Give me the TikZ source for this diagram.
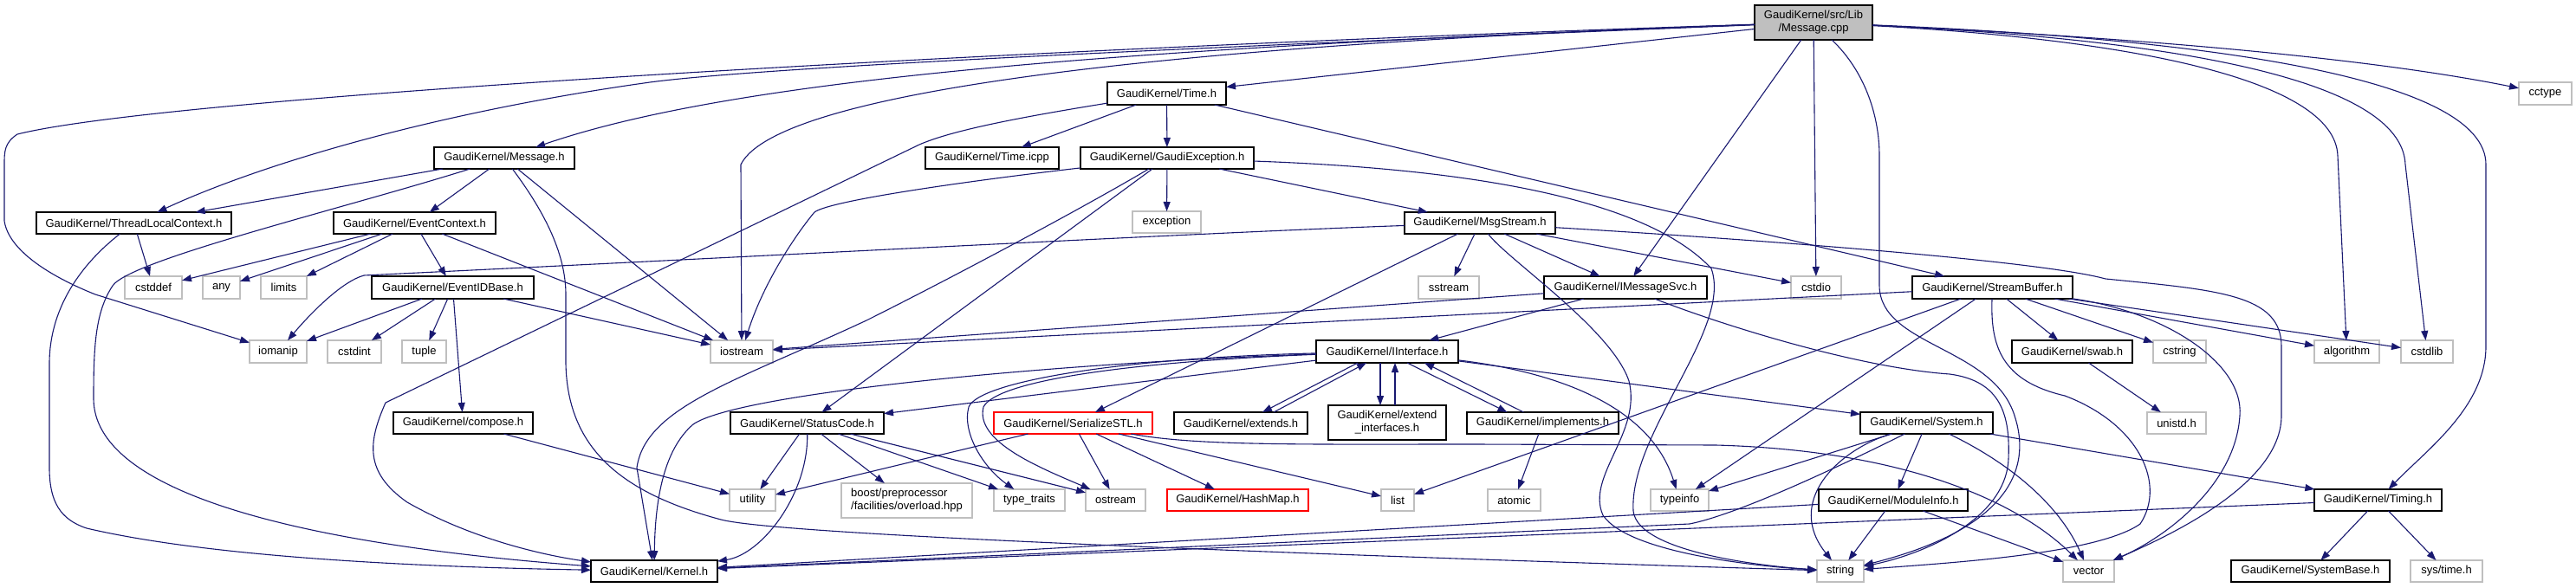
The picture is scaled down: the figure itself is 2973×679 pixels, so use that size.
\documentclass[tikz,border=0pt]{standalone}
\usepackage{fontspec}
\setmainfont{Liberation Sans}
\usetikzlibrary{arrows.meta,calc}
\definecolor{edgecol}{HTML}{191970}
\definecolor{grayb}{HTML}{BFBFBF}
\newcommand\nb[7]{\node[#1,minimum width={(#5-#3)*0.5pt},minimum height={(#6-#4)*0.5pt}] (#2) at ({(#3+#5)/2},{(#4+#6)/2}) {#7};}
\begin{document}
\begin{tikzpicture}[x=0.5pt,y=-0.5pt,
  base/.style={rectangle,inner sep=0pt,outer sep=0pt,line width=0.65pt,font=\fontsize{6.5}{7.5}\selectfont,align=center},
  doc/.style={base,draw=black,fill=white},
  ext/.style={base,draw=grayb,fill=white},
  red/.style={base,draw=red,fill=white},
  root/.style={base,draw=black,fill=grayb},
  dep/.style={draw=edgecol,line width=0.55pt,-{Triangle[length=5.5pt,width=4pt]}}]
\useasboundingbox[fill=white] (0,0) rectangle (2973,679);
% nodes
\nb{root}{cpp}{2025}{6}{2161}{46}{GaudiKernel/src/Lib\\/Message.cpp}
\nb{doc}{time}{1278}{95}{1415}{121}{GaudiKernel/Time.h}
\nb{ext}{cctype}{2907}{95}{2968}{121}{cctype}
\nb{doc}{msgh}{501}{170}{663}{195}{GaudiKernel/Message.h}
\nb{doc}{ticpp}{1068}{170}{1222}{195}{GaudiKernel/Time.icpp}
\nb{doc}{gexc}{1247}{170}{1447}{195}{GaudiKernel/GaudiException.h}
\nb{doc}{tlc}{42}{245}{267}{270}{GaudiKernel/ThreadLocalContext.h}
\nb{doc}{evctx}{385}{245}{572}{270}{GaudiKernel/EventContext.h}
\nb{ext}{exception}{1307}{244}{1386}{269}{exception}
\nb{doc}{msgs}{1621}{245}{1795}{270}{GaudiKernel/MsgStream.h}
\nb{ext}{cstddef}{144}{319}{210}{345}{cstddef}
\nb{ext}{any}{234}{319}{277}{345}{any}
\nb{ext}{limits}{301}{319}{354}{345}{limits}
\nb{doc}{evid}{429}{319}{616}{345}{GaudiKernel/EventIDBase.h}
\nb{ext}{sstream}{1637}{319}{1707}{345}{sstream}
\nb{doc}{imsg}{1782}{319}{1970}{345}{GaudiKernel/IMessageSvc.h}
\nb{ext}{cstdio}{2067}{319}{2125}{345}{cstdio}
\nb{doc}{sbuf}{2207}{319}{2392}{345}{GaudiKernel/StreamBuffer.h}
\nb{ext}{iomanip}{288}{393}{354}{419}{iomanip}
\nb{ext}{cstdint}{378}{393}{440}{419}{cstdint}
\nb{ext}{tuple}{464}{393}{515}{419}{tuple}
\nb{ext}{iostream}{820}{393}{892}{419}{iostream}
\nb{doc}{iint}{1519}{393}{1683}{419}{GaudiKernel/IInterface.h}
\nb{doc}{swab}{2322}{393}{2461}{419}{GaudiKernel/swab.h}
\nb{ext}{cstring}{2485}{393}{2546}{419}{cstring}
\nb{ext}{algorithm}{2671}{393}{2746}{419}{algorithm}
\nb{ext}{cstdlib}{2771}{393}{2831}{419}{cstdlib}
\nb{doc}{compose}{454}{476}{615}{501}{GaudiKernel/compose.h}
\nb{doc}{status}{843}{476}{1020}{501}{GaudiKernel/StatusCode.h}
\nb{red}{sstl}{1147}{476}{1330}{501}{GaudiKernel/SerializeSTL.h}
\nb{doc}{extends}{1355}{476}{1509}{501}{GaudiKernel/extends.h}
\nb{doc}{extif}{1533}{468}{1669}{508}{GaudiKernel/extend\\\_interfaces.h}
\nb{doc}{impl}{1693}{476}{1868}{501}{GaudiKernel/implements.h}
\nb{doc}{system}{2147}{476}{2300}{501}{GaudiKernel/System.h}
\nb{ext}{unistd}{2478}{476}{2546}{501}{unistd.h}
\nb{ext}{utility}{842}{565}{895}{590}{utility}
\nb{ext,align=left}{boost}{971}{558}{1122}{598}{boost/preprocessor\\/facilities/overload.hpp}
\nb{ext}{typetraits}{1147}{565}{1229}{590}{type\_traits}
\nb{ext}{ostream}{1253}{565}{1322}{590}{ostream}
\nb{red}{hashmap}{1347}{565}{1510}{590}{GaudiKernel/HashMap.h}
\nb{ext}{list}{1594}{565}{1632}{590}{list}
\nb{ext}{atomic}{1717}{565}{1778}{590}{atomic}
\nb{ext}{typeinfo}{1905}{565}{1972}{590}{typeinfo}
\nb{doc}{modinfo}{2099}{565}{2271}{590}{GaudiKernel/ModuleInfo.h}
\nb{doc}{timing}{2671}{565}{2818}{590}{GaudiKernel/Timing.h}
\nb{doc}{kernel}{682}{647}{828}{672}{GaudiKernel/Kernel.h}
\nb{ext}{string}{2097}{647}{2151}{672}{string}
\nb{ext}{vector}{2381}{647}{2440}{672}{vector}
\nb{doc}{sysbase}{2575}{647}{2758}{672}{GaudiKernel/SystemBase.h}
\nb{ext}{systime}{2782}{647}{2865}{672}{sys/time.h}
% Message.cpp
\draw[dep] (cpp) .. controls (1200,55) and (200,110) .. (20,155) .. controls (5,165) and (5,175) .. (5,190) -- (5,255) .. controls (10,290) and (60,320) .. (110,340) -- (iomanip);
\draw[dep] (cpp) .. controls (1500,50) and (900,75) .. (750,95) .. controls (500,130) and (300,190) .. (tlc);
\draw[dep] (cpp) .. controls (1300,55) and (850,90) .. (msgh);
\draw[dep] (cpp) .. controls (1400,50) and (900,100) .. (855,190) -- (iostream);
\draw[dep] (cpp) -- (time);
\draw[dep] (cpp) -- (imsg);
\draw[dep] (cpp) -- (cstdio);
\draw[dep] (cpp) .. controls (2150,80) and (2169,130) .. (2169,180) -- (2169,330) .. controls (2170,400) and (2300,400) .. (2325,480) .. controls (2345,540) and (2320,610) .. (string);
\draw[dep] (cpp) .. controls (2500,45) and (2750,70) .. (cctype);
\draw[dep] (cpp) .. controls (2450,45) and (2695,90) .. (2698,180) -- (algorithm);
\draw[dep] (cpp) .. controls (2500,45) and (2772,90) .. (2776,190) -- (cstdlib);
\draw[dep] (cpp) .. controls (2550,45) and (2869,90) .. (2869,190) -- (2869,400) .. controls (2869,470) and (2800,520) .. (timing);
% Time.h
\draw[dep] (time) -- (ticpp);
\draw[dep] (time) -- (gexc);
\draw[dep] (time) .. controls (1180,135) and (1100,150) .. (1061,167) -- (445,465) .. controls (425,510) and (420,545) .. (470,580) .. controls (540,620) and (620,640) .. (kernel);
\draw[dep] (time) -- (sbuf);
% GaudiException.h
\draw[dep] (gexc) -- (exception);
\draw[dep] (gexc) .. controls (1150,205) and (960,230) .. (940,245) .. controls (915,275) and (880,330) .. (iostream);
\draw[dep] (gexc) -- (status);
\draw[dep] (gexc) .. controls (1250,240) and (1100,320) .. (1000,370) .. controls (850,440) and (745,470) .. (735,540) -- (kernel);
\draw[dep] (gexc) -- (msgs);
\draw[dep] (gexc) .. controls (1700,195) and (1900,230) .. (1975,310) .. controls (2000,380) and (1880,500) .. (1885,590) .. controls (1890,640) and (2050,655) .. (string);
% Message.h
\draw[dep] (msgh) -- (tlc);
\draw[dep] (msgh) .. controls (400,240) and (150,300) .. (130,330) .. controls (110,360) and (108,400) .. (108,460) .. controls (108,600) and (500,640) .. (kernel);
\draw[dep] (msgh) -- (evctx);
\draw[dep] (msgh) .. controls (625,240) and (653,290) .. (653,340) -- (653,420) .. controls (655,520) and (720,570) .. (832,600) .. controls (900,618) and (1500,640) .. (string);
\draw[dep] (msgh) -- (iostream);
% ThreadLocalContext.h
\draw[dep] (tlc) -- (cstddef);
\draw[dep] (tlc) .. controls (100,300) and (57,350) .. (57,420) -- (57,540) .. controls (57,580) and (70,600) .. (100,610) .. controls (250,645) and (500,655) .. (kernel);
% EventContext.h
\draw[dep] (evctx) -- (cstddef);
\draw[dep] (evctx) -- (any);
\draw[dep] (evctx) -- (limits);
\draw[dep] (evctx) -- (evid);
\draw[dep] (evctx) -- (iostream);
% EventIDBase.h
\draw[dep] (evid) -- (iomanip);
\draw[dep] (evid) -- (cstdint);
\draw[dep] (evid) -- (tuple);
\draw[dep] (evid) -- (compose);
\draw[dep] (evid) -- (iostream);
\draw[dep] (compose) -- (utility);
% MsgStream.h
\draw[dep] (msgs) .. controls (1400,268) and (800,300) .. (420,318) .. controls (395,325) and (360,360) .. (iomanip);
\draw[dep] (msgs) -- (sstl);
\draw[dep] (msgs) -- (sstream);
\draw[dep] (msgs) .. controls (1740,300) and (1860,380) .. (1880,440) .. controls (1895,500) and (1830,550) .. (1850,595) .. controls (1880,640) and (2040,655) .. (string);
\draw[dep] (msgs) -- (imsg);
\draw[dep] (msgs) -- (cstdio);
\draw[dep] (msgs) .. controls (2000,275) and (2350,300) .. (2430,322) .. controls (2560,335) and (2633,340) .. (2633,400) -- (2633,480) .. controls (2633,560) and (2500,620) .. (vector);
% IMessageSvc.h
\draw[dep] (imsg) -- (iint);
\draw[dep] (imsg) -- (iostream);
\draw[dep] (imsg) .. controls (2000,380) and (2150,425) .. (2250,432) .. controls (2310,440) and (2320,480) .. (2318,530) .. controls (2315,600) and (2220,640) .. (string);
% StreamBuffer.h
\draw[dep] (sbuf) -- (iostream);
\draw[dep] (sbuf) -- (list);
\draw[dep] (sbuf) -- (typeinfo);
\draw[dep] (sbuf) -- (swab);
\draw[dep] (sbuf) -- (cstring);
\draw[dep] (sbuf) -- (algorithm);
\draw[dep] (sbuf) -- (cstdlib);
\draw[dep] (sbuf) .. controls (2500,360) and (2590,420) .. (2585,480) .. controls (2580,560) and (2500,620) .. (vector);
\draw[dep] (sbuf) .. controls (2297,400) and (2310,440) .. (2383,457) .. controls (2470,490) and (2500,560) .. (2470,605) .. controls (2420,640) and (2250,650) .. (string);
\draw[dep] (swab) -- (unistd);
% IInterface.h
\draw[dep] (iint) .. controls (1200,420) and (850,455) .. (800,490) .. controls (765,520) and (756,580) .. (kernel);
\draw[dep] (iint) -- (status);
\draw[dep] (iint) .. controls (1300,413) and (1130,440) .. (1118,470) .. controls (1110,500) and (1135,540) .. (typetraits);
\draw[dep] (iint) .. controls (1300,418) and (1150,440) .. (1135,470) .. controls (1125,510) and (1200,540) .. (ostream);
\draw[dep] ($(iint.south)+(-34,0)$) -- ($(extends.north)+(25,0)$);
\draw[dep] ($(extends.north)+(38,0)$) -- ($(iint.south)+(-24,0)$);
\draw[dep] ($(iint.south)+(-8,0)$) -- ($(extif.north)+(-8,0)$);
\draw[dep] ($(extif.north)+(9,0)$) -- ($(iint.south)+(9,0)$);
\draw[dep] ($(iint.south)+(23,0)$) -- ($(impl.north)+(-41,0)$);
\draw[dep] ($(impl.north)+(-22,0)$) -- ($(iint.south)+(43,0)$);
\draw[dep] (iint) .. controls (1800,430) and (1905,470) .. (typeinfo);
\draw[dep] (iint) -- (system);
\draw[dep] (impl) -- (atomic);
% StatusCode.h
\draw[dep] (status) -- (utility);
\draw[dep] (status) .. controls (933,570) and (880,640) .. (kernel);
\draw[dep] (status) -- (boost);
\draw[dep] (status) -- (typetraits);
\draw[dep] (status) -- (ostream);
% SerializeSTL.h
\draw[dep] (sstl) -- (utility);
\draw[dep] (sstl) -- (ostream);
\draw[dep] (sstl) -- (hashmap);
\draw[dep] (sstl) -- (list);
\draw[dep] (sstl) .. controls (1380,515) and (1500,513) .. (1700,513) -- (1980,514) .. controls (2200,520) and (2330,580) .. (vector);
% System.h
\draw[dep] (system) -- (typeinfo);
\draw[dep] (system) .. controls (2120,520) and (2060,580) .. (string);
\draw[dep] (system) -- (modinfo);
\draw[dep] (system) .. controls (2100,550) and (2000,595) .. (1950,605) -- (kernel);
\draw[dep] (system) .. controls (2330,540) and (2380,590) .. (vector);
\draw[dep] (system) -- (timing);
% ModuleInfo.h
\draw[dep] (modinfo) -- (kernel);
\draw[dep] (modinfo) -- (string);
\draw[dep] (modinfo) -- (vector);
% Timing.h
\draw[dep] (timing) -- (kernel);
\draw[dep] (timing) -- (sysbase);
\draw[dep] (timing) -- (systime);
\end{tikzpicture}
\end{document}
